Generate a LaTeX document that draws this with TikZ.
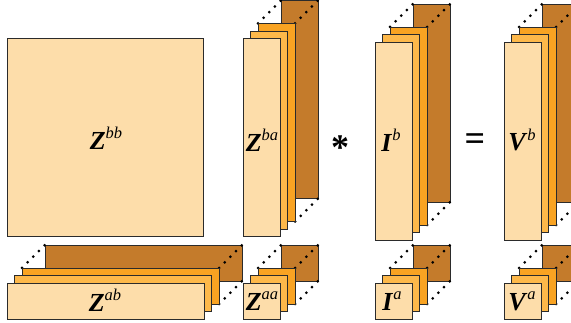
\documentclass[tikz,border=0pt]{standalone}
\usepackage{fontspec}
\setmainfont{Liberation Serif}
\definecolor{frontc}{HTML}{FDDDAA}
\definecolor{secondc}{HTML}{FDB84A}
\definecolor{thirdc}{HTML}{F9A322}
\definecolor{backc}{HTML}{C47B2B}
\definecolor{edgec}{HTML}{2B2B2B}
\tikzset{
  layer/.style={draw=edgec, line width=0.9pt},
  dots/.style={draw=black, line width=3pt, line cap=round, dash pattern=on 0pt off 8pt},
  lbl/.style={inner sep=0pt, font=\fontsize{26}{28}\selectfont},
  opsym/.style={inner sep=0pt, font=\fontsize{36}{38}\selectfont\bfseries}
}
\newcommand\mlabel[2]{\textbf{\textit{#1}}\raisebox{0.42em}{\fontsize{16.5}{18}\selectfont\itshape #2}}
\newcommand\layerstack[4]{%
  \fill[layer, fill=backc] (#1+38,#2-38) rectangle ++(#3,#4);
  \draw[dots] (#1+15,#2-15) -- (#1+38,#2-38);
  \draw[dots] (#1+15+#3,#2-15) -- (#1+38+#3,#2-38);
  \draw[dots] (#1+15+#3,#2-15+#4) -- (#1+38+#3,#2-38+#4);
  \fill[layer, fill=thirdc] (#1+15,#2-15) rectangle ++(#3,#4);
  \fill[layer, fill=secondc] (#1+7.5,#2-7.5) rectangle ++(#3,#4);
  \fill[layer, fill=frontc] (#1,#2) rectangle ++(#3,#4);
}
\begin{document}
\begin{tikzpicture}[x=1pt, y=-1pt]
\useasboundingbox (0,0) rectangle (571,323);
\clip (0,0) rectangle (571,323);
% Z^bb
\fill[layer, fill=frontc] (7,38) rectangle ++(196,198);
\node[lbl] (zbb) at (106,138) {\mlabel{Z}{bb}};
% stacks
\layerstack{243}{38.5}{37}{198}
\node[lbl] (zba) at (262,140) {\mlabel{Z}{ba}};
\layerstack{375}{42}{37}{198}
\node[lbl] (ib) at (391,140) {\mlabel{I}{b}};
\layerstack{504}{42}{37}{198}
\node[lbl] (vb) at (522,140) {\mlabel{V}{b}};
\layerstack{7}{283}{197}{36}
\node[lbl] (zab) at (105,300) {\mlabel{Z}{ab}};
\layerstack{243}{283}{37}{36}
\node[lbl] (zaa) at (262,301) {\mlabel{Z}{aa}};
\layerstack{375}{283}{37}{36}
\node[lbl] (ia) at (392,301) {\mlabel{I}{a}};
\layerstack{504}{283}{37}{36}
\node[lbl] (va) at (522,301) {\mlabel{V}{a}};
% operators
\node[opsym] (star) at (340,148) {*};
\node[opsym] (eq) at (475,142) {=};
\end{tikzpicture}
\end{document}
